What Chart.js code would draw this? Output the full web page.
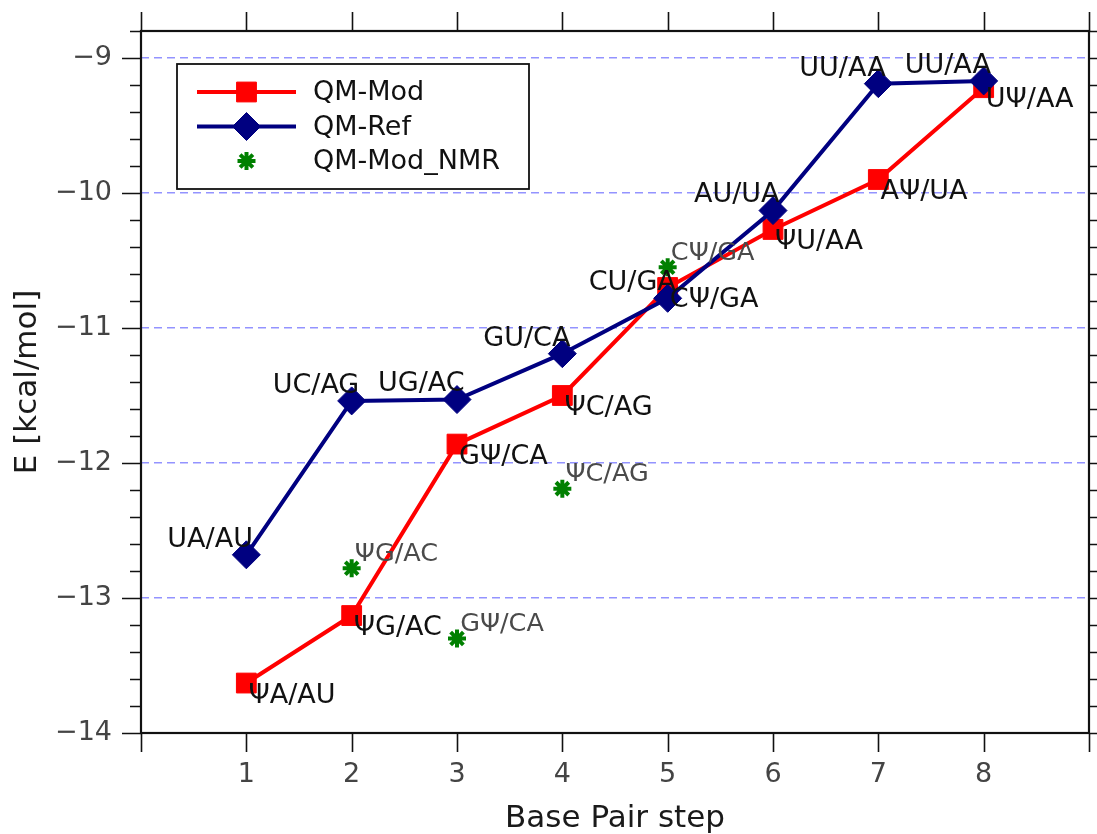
<!DOCTYPE html>
<html>
<head>
<meta charset="utf-8">
<script src="https://cdn.jsdelivr.net/npm/chart.js@4.4.1/dist/chart.umd.min.js"></script>
<style>
  html, body { margin: 0; padding: 0; background: #fff; }
  canvas { display: block; }
</style>
</head>
<body>
<canvas id="chart" width="1097" height="834"></canvas>
<script>
// Base pair steps and stacking energies (kcal/mol)
const steps = [1, 2, 3, 4, 5, 6, 7, 8];
const qmMod = [-13.63, -13.13, -11.86, -11.50, -10.70, -10.27, -9.90, -9.22];
const qmRef = [-12.68, -11.54, -11.53, -11.19, -10.78, -10.13, -9.19, -9.17];
const nmrSteps = [2, 3, 4, 5];
const qmModNmr = [-12.78, -13.30, -12.19, -10.55];

const modLabels = ['ΨA/AU', 'ΨG/AC', 'GΨ/CA', 'ΨC/AG', 'CΨ/GA', 'ΨU/AA', 'AΨ/UA', 'UΨ/AA'];
const refLabels = ['UA/AU', 'UC/AG', 'UG/AC', 'GU/CA', 'CU/GA', 'AU/UA', 'UU/AA', 'UU/AA'];
const nmrLabels = ['ΨG/AC', 'GΨ/CA', 'ΨC/AG', 'CΨ/GA'];

const xTickValues = [0, 1, 2, 3, 4, 5, 6, 7, 8, 9];
const xTickLabels = ['', '1', '2', '3', '4', '5', '6', '7', '8', ''];
const yTickValues = [-14, -13, -12, -11, -10, -9];
const gridValues = [-13, -12, -11, -10, -9];

const FONT = '"DejaVu Sans", "Liberation Sans", sans-serif';
const RED = '#ff0000', NAVY = '#000080', GREEN = '#008000';

const toPoints = (xs, ys) => xs.map((x, i) => ({ x, y: ys[i] }));

// Outward tick marks, plot frame, point annotations and the legend box
const decorations = {
  id: 'decorations',
  afterDatasetsDraw(chart) {
    const { ctx } = chart;
    const xs = chart.scales.x, ys = chart.scales.y;
    ctx.save();
    ctx.font = '27px ' + FONT;
    ctx.fillStyle = '#111';
    // reference labels: above-left of each diamond
    ctx.textAlign = 'left';
    ctx.textBaseline = 'alphabetic';
    steps.forEach((s, i) => {
      ctx.fillText(refLabels[i], xs.getPixelForValue(s - 0.75), ys.getPixelForValue(qmRef[i] + 0.06));
    });
    // modified labels: just below-right of each square
    ctx.textBaseline = 'top';
    steps.forEach((s, i) => {
      ctx.fillText(modLabels[i], xs.getPixelForValue(s + 0.02), ys.getPixelForValue(qmMod[i]) - 1);
    });
    // NMR labels
    ctx.font = '25.5px ' + FONT;
    ctx.fillStyle = '#4a4a4a';
    ctx.textBaseline = 'alphabetic';
    nmrSteps.forEach((s, i) => {
      ctx.fillText(nmrLabels[i], xs.getPixelForValue(s + 0.03), ys.getPixelForValue(qmModNmr[i] + 0.055));
    });
    ctx.restore();
  },
  afterDraw(chart) {
    const { ctx, chartArea: a } = chart;
    const xs = chart.scales.x, ys = chart.scales.y;
    ctx.save();
    ctx.strokeStyle = '#111';
    ctx.lineWidth = 1.6;
    ctx.beginPath();
    // y ticks, left and right: major every 1, minor every 0.2
    for (let k = 0; k <= 26; k++) {
      const v = -14 + k * 0.2;
      const py = Math.round(ys.getPixelForValue(v)) + 0.5;
      const major = k % 5 === 0;
      const len = major ? 19 : 11;
      ctx.moveTo(a.left - len, py); ctx.lineTo(a.left, py);
      ctx.moveTo(a.right, py); ctx.lineTo(a.right + len, py);
    }
    // x ticks, bottom and top
    xTickValues.forEach(v => {
      const px = Math.round(xs.getPixelForValue(v)) + 0.5;
      ctx.moveTo(px, a.bottom); ctx.lineTo(px, a.bottom + 19);
      ctx.moveTo(px, a.top); ctx.lineTo(px, a.top - 19);
    });
    ctx.stroke();
    // frame
    ctx.lineWidth = 2.2;
    ctx.strokeRect(a.left, a.top, a.right - a.left, a.bottom - a.top);

    // legend
    const lx = a.left + 36, ly = a.top + 33, lw = 352, lh = 125;
    ctx.fillStyle = '#fff';
    ctx.fillRect(lx, ly, lw, lh);
    ctx.lineWidth = 1.8;
    ctx.strokeStyle = '#111';
    ctx.strokeRect(lx, ly, lw, lh);
    const rows = [
      { label: 'QM-Mod', color: RED, style: 'rect', line: true, radius: 14 },
      { label: 'QM-Ref', color: NAVY, style: 'rectRot', line: true, radius: 14 },
      { label: 'QM-Mod_NMR', color: GREEN, style: 'star', line: false, radius: 9 }
    ];
    rows.forEach((r, i) => {
      const cy = ly + 28 + i * 34.5;
      const x0 = lx + 20, x1 = lx + 119, cx = (x0 + x1) / 2;
      ctx.strokeStyle = r.color;
      ctx.fillStyle = r.color;
      if (r.line) {
        ctx.lineWidth = 4;
        ctx.beginPath(); ctx.moveTo(x0, cy); ctx.lineTo(x1, cy); ctx.stroke();
      }
      ctx.lineWidth = r.style === 'star' ? 4 : 1;
      Chart.helpers.drawPoint(ctx, { pointStyle: r.style, radius: r.radius, rotation: 0, borderWidth: ctx.lineWidth }, cx, cy);
      ctx.fillStyle = '#111';
      ctx.font = '27px ' + FONT;
      ctx.textAlign = 'left';
      ctx.textBaseline = 'middle';
      ctx.fillText(r.label, lx + 136, cy + 1);
    });
    ctx.restore();
  }
};

new Chart(document.getElementById('chart'), {
  type: 'line',
  data: {
    datasets: [
      {
        label: 'QM-Mod_NMR',
        data: toPoints(nmrSteps, qmModNmr),
        showLine: false,
        pointStyle: 'star',
        pointRadius: 9,
        pointBorderWidth: 4,
        borderColor: GREEN,
        backgroundColor: GREEN,
        order: 1
      },
      {
        label: 'QM-Ref',
        data: toPoints(steps, qmRef),
        borderColor: NAVY,
        backgroundColor: NAVY,
        borderWidth: 4,
        pointStyle: 'rectRot',
        pointRadius: 14,
        pointBorderWidth: 1,
        tension: 0,
        order: 2
      },
      {
        label: 'QM-Mod',
        data: toPoints(steps, qmMod),
        borderColor: RED,
        backgroundColor: RED,
        borderWidth: 4,
        pointStyle: 'rect',
        pointRadius: 14,
        pointBorderWidth: 1,
        tension: 0,
        order: 3
      }
    ]
  },
  options: {
    responsive: false,
    animation: false,
    events: [],
    layout: { autoPadding: false, padding: { top: 31, right: 8, left: 0, bottom: 0 } },
    plugins: { legend: { display: false }, tooltip: { enabled: false } },
    scales: {
      x: {
        type: 'linear',
        min: 0,
        max: 9,
        afterBuildTicks: s => { s.ticks = xTickValues.map(v => ({ value: v })); },
        afterFit: s => { s.height = 101; s.paddingLeft = 0; s.paddingRight = 0; },
        grid: { display: false, drawTicks: false },
        border: { display: false },
        ticks: {
          padding: 26,
          color: '#444',
          font: { family: FONT, size: 27 },
          callback: (v, i) => xTickLabels[i]
        },
        title: {
          display: true,
          text: 'Base Pair step',
          color: '#1a1a1a',
          font: { family: FONT, size: 31 },
          padding: { top: 0, bottom: -4 }
        }
      },
      y: {
        type: 'linear',
        min: -14,
        max: -8.8,
        afterBuildTicks: s => { s.ticks = yTickValues.map(v => ({ value: v })); },
        afterFit: s => { s.width = 141; s.paddingTop = 0; s.paddingBottom = 0; },
        grid: {
          drawTicks: false,
          lineWidth: 1.5,
          color: c => gridValues.includes(c.tick && c.tick.value) ? 'rgba(40,40,255,0.5)' : 'rgba(0,0,0,0)'
        },
        border: { display: false, dash: [8, 5] },
        ticks: {
          padding: 29,
          color: '#444',
          font: { family: FONT, size: 27 },
          callback: v => String(v).replace('-', '\u2212')
        },
        title: {
          display: true,
          text: 'E [kcal/mol]',
          color: '#1a1a1a',
          font: { family: FONT, size: 31 },
          padding: { top: 9, bottom: 0 }
        }
      }
    }
  },
  plugins: [decorations]
});
</script>
</body>
</html>
